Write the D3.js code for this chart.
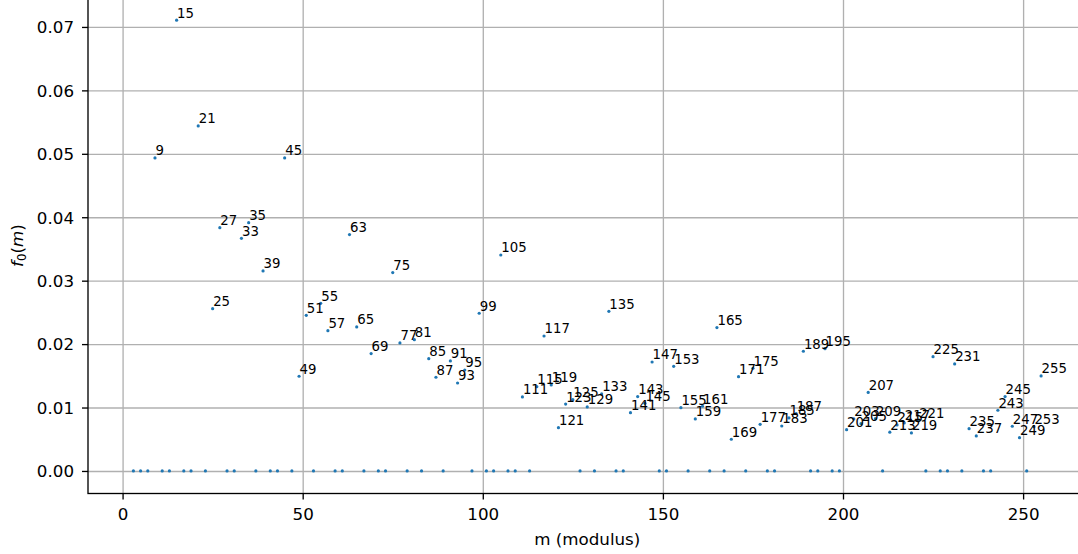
<!DOCTYPE html>
<html>
<head>
<meta charset="utf-8">
<script src="https://cdn.jsdelivr.net/npm/d3@7"></script>
<style>
  body { margin: 0; background: #fff; }
  text { font-family: "DejaVu Sans", sans-serif; }
</style>
</head>
<body>
<div id="plot"></div>
<script>
// moduli where f0(m) is zero (odd primes)
var zeroModuli = [3, 5, 7, 11, 13, 17, 19, 23, 29, 31, 37, 41, 43, 47, 53, 59, 61, 67, 71, 73,
  79, 83, 89, 97, 101, 103, 107, 109, 113, 127, 131, 137, 139, 149, 151, 157, 163, 167, 173,
  179, 181, 191, 193, 197, 199, 211, 223, 227, 229, 233, 239, 241, 251]

// moduli with a non-zero value, and the values
var moduli = [9, 15, 21, 25, 27, 33, 35, 39, 45, 49, 51, 55, 57, 63, 65, 69, 75, 77, 81, 85,
  87, 91, 93, 95, 99, 105, 111, 115, 117, 119, 121, 123, 125, 129, 133, 135, 141, 143, 145, 147,
  153, 155, 159, 161, 165, 169, 171, 175, 177, 183, 185, 187, 189, 195, 201, 203, 205, 207, 209, 213,
  215, 217, 219, 221, 225, 231, 235, 237, 243, 245, 247, 249, 253, 255]
var f0 = [0.04935, 0.07106, 0.0544, 0.02559, 0.03836, 0.03668, 0.03915, 0.03153, 0.04935, 0.01493,
  0.02454, 0.02643, 0.02212, 0.03726, 0.0227, 0.0185, 0.03127, 0.02018, 0.0207, 0.01771,
  0.01477, 0.01734, 0.01387, 0.01592, 0.02486, 0.03405, 0.01167, 0.01329, 0.02128, 0.01356,
  0.00683, 0.01054, 0.01124, 0.01009, 0.01214, 0.02517, 0.00919, 0.01172, 0.01067, 0.01718,
  0.0165, 0.00998, 0.0082, 0.0102, 0.0226, 0.005, 0.01487, 0.01619, 0.00736, 0.00709,
  0.00836, 0.00904, 0.01887, 0.01928, 0.00651, 0.0082, 0.00746, 0.01238, 0.00825, 0.00612,
  0.00725, 0.00757, 0.00599, 0.00793, 0.01802, 0.01687, 0.00667, 0.00552, 0.00957, 0.01172,
  0.00705, 0.00525, 0.00698, 0.01498]

var xTicks = [0, 50, 100, 150, 200, 250]
var yTicks = [0, 0.01, 0.02, 0.03, 0.04, 0.05, 0.06, 0.07]

var W = 1078, H = 554
// plot box (top and right spines sit just outside the picture)
var mLeft = 88, mRight = 1086.5, mTop = -2.3, mBottom = 493.5

var svg = d3.select("#plot")
  .append("svg")
  .attr("width", W)
  .attr("height", H)
  .style("background", "#fff")

var xScale = d3.scaleLinear()
  .domain([-9.6, 267.6])
  .range([mLeft, mRight])

var yScale = d3.scaleLinear()
  .domain([-0.003553, 0.07461])
  .range([mBottom, mTop])

// grid
svg.append("g")
  .attr("transform", "translate(0," + mBottom + ")")
  .call(d3.axisBottom(xScale).tickValues(xTicks).tickSize(-(mBottom - mTop)).tickFormat(""))
  .call(g => g.select(".domain").remove())
  .selectAll("line").attr("stroke", "#b0b0b0").attr("stroke-width", 1.33)

svg.append("g")
  .attr("transform", "translate(" + mLeft + ",0)")
  .call(d3.axisLeft(yScale).tickValues(yTicks).tickSize(-(mRight - mLeft)).tickFormat(""))
  .call(g => g.select(".domain").remove())
  .selectAll("line").attr("stroke", "#b0b0b0").attr("stroke-width", 1.33)

// points
var pts = zeroModuli.map(m => [m, 0]).concat(moduli.map((m, i) => [m, f0[i]]))

svg.selectAll(".dot")
  .data(pts)
  .enter()
  .append("circle")
  .attr("class", "dot")
  .attr("cx", d => xScale(d[0]))
  .attr("cy", d => yScale(d[1]))
  .attr("r", 1.6)
  .attr("fill", "#1f77b4")

svg.selectAll(".lbl")
  .data(moduli)
  .enter()
  .append("text")
  .attr("class", "lbl")
  .attr("x", d => xScale(d) + 0.5)
  .attr("y", (d, i) => yScale(f0[i]) - 2.5)
  .attr("font-size", "13.3px")
  .attr("fill", "#000")
  .text(d => d)

// axes
var xAxis = svg.append("g")
  .attr("transform", "translate(0," + mBottom + ")")
  .call(d3.axisBottom(xScale).tickValues(xTicks).tickSize(6).tickPadding(9).tickFormat(d3.format("d")))
var yAxis = svg.append("g")
  .attr("transform", "translate(" + mLeft + ",0)")
  .call(d3.axisLeft(yScale).tickValues(yTicks).tickSize(6).tickPadding(8).tickFormat(d3.format(".2f")))

;[xAxis, yAxis].forEach(function (g) {
  g.select(".domain").remove()
  g.selectAll("line").attr("stroke", "#000").attr("stroke-width", 1.33)
  g.selectAll("text")
    .attr("font-size", "16.7px")
    .attr("font-family", "DejaVu Sans")
    .attr("fill", "#000")
})
yAxis.selectAll("text").attr("dy", "0.35em")

// spines
svg.append("rect")
  .attr("x", mLeft).attr("y", mTop)
  .attr("width", mRight - mLeft).attr("height", mBottom - mTop)
  .attr("fill", "none")
  .attr("stroke", "#000")
  .attr("stroke-width", 1.33)

// axis labels
svg.append("text")
  .attr("x", (mLeft + mRight) / 2)
  .attr("y", 545)
  .attr("text-anchor", "middle")
  .attr("font-size", "16.7px")
  .text("m (modulus)")

var yl = svg.append("text")
  .attr("transform", "translate(23," + ((mTop + mBottom) / 2) + ") rotate(-90)")
  .attr("text-anchor", "middle")
  .attr("font-size", "16.7px")
yl.append("tspan").attr("font-style", "italic").text("f")
yl.append("tspan").attr("font-size", "11.7px").attr("dy", "3").text("0")
yl.append("tspan").attr("dy", "-3").text("(")
yl.append("tspan").attr("font-style", "italic").text("m")
yl.append("tspan").text(")")
</script>
</body>
</html>
